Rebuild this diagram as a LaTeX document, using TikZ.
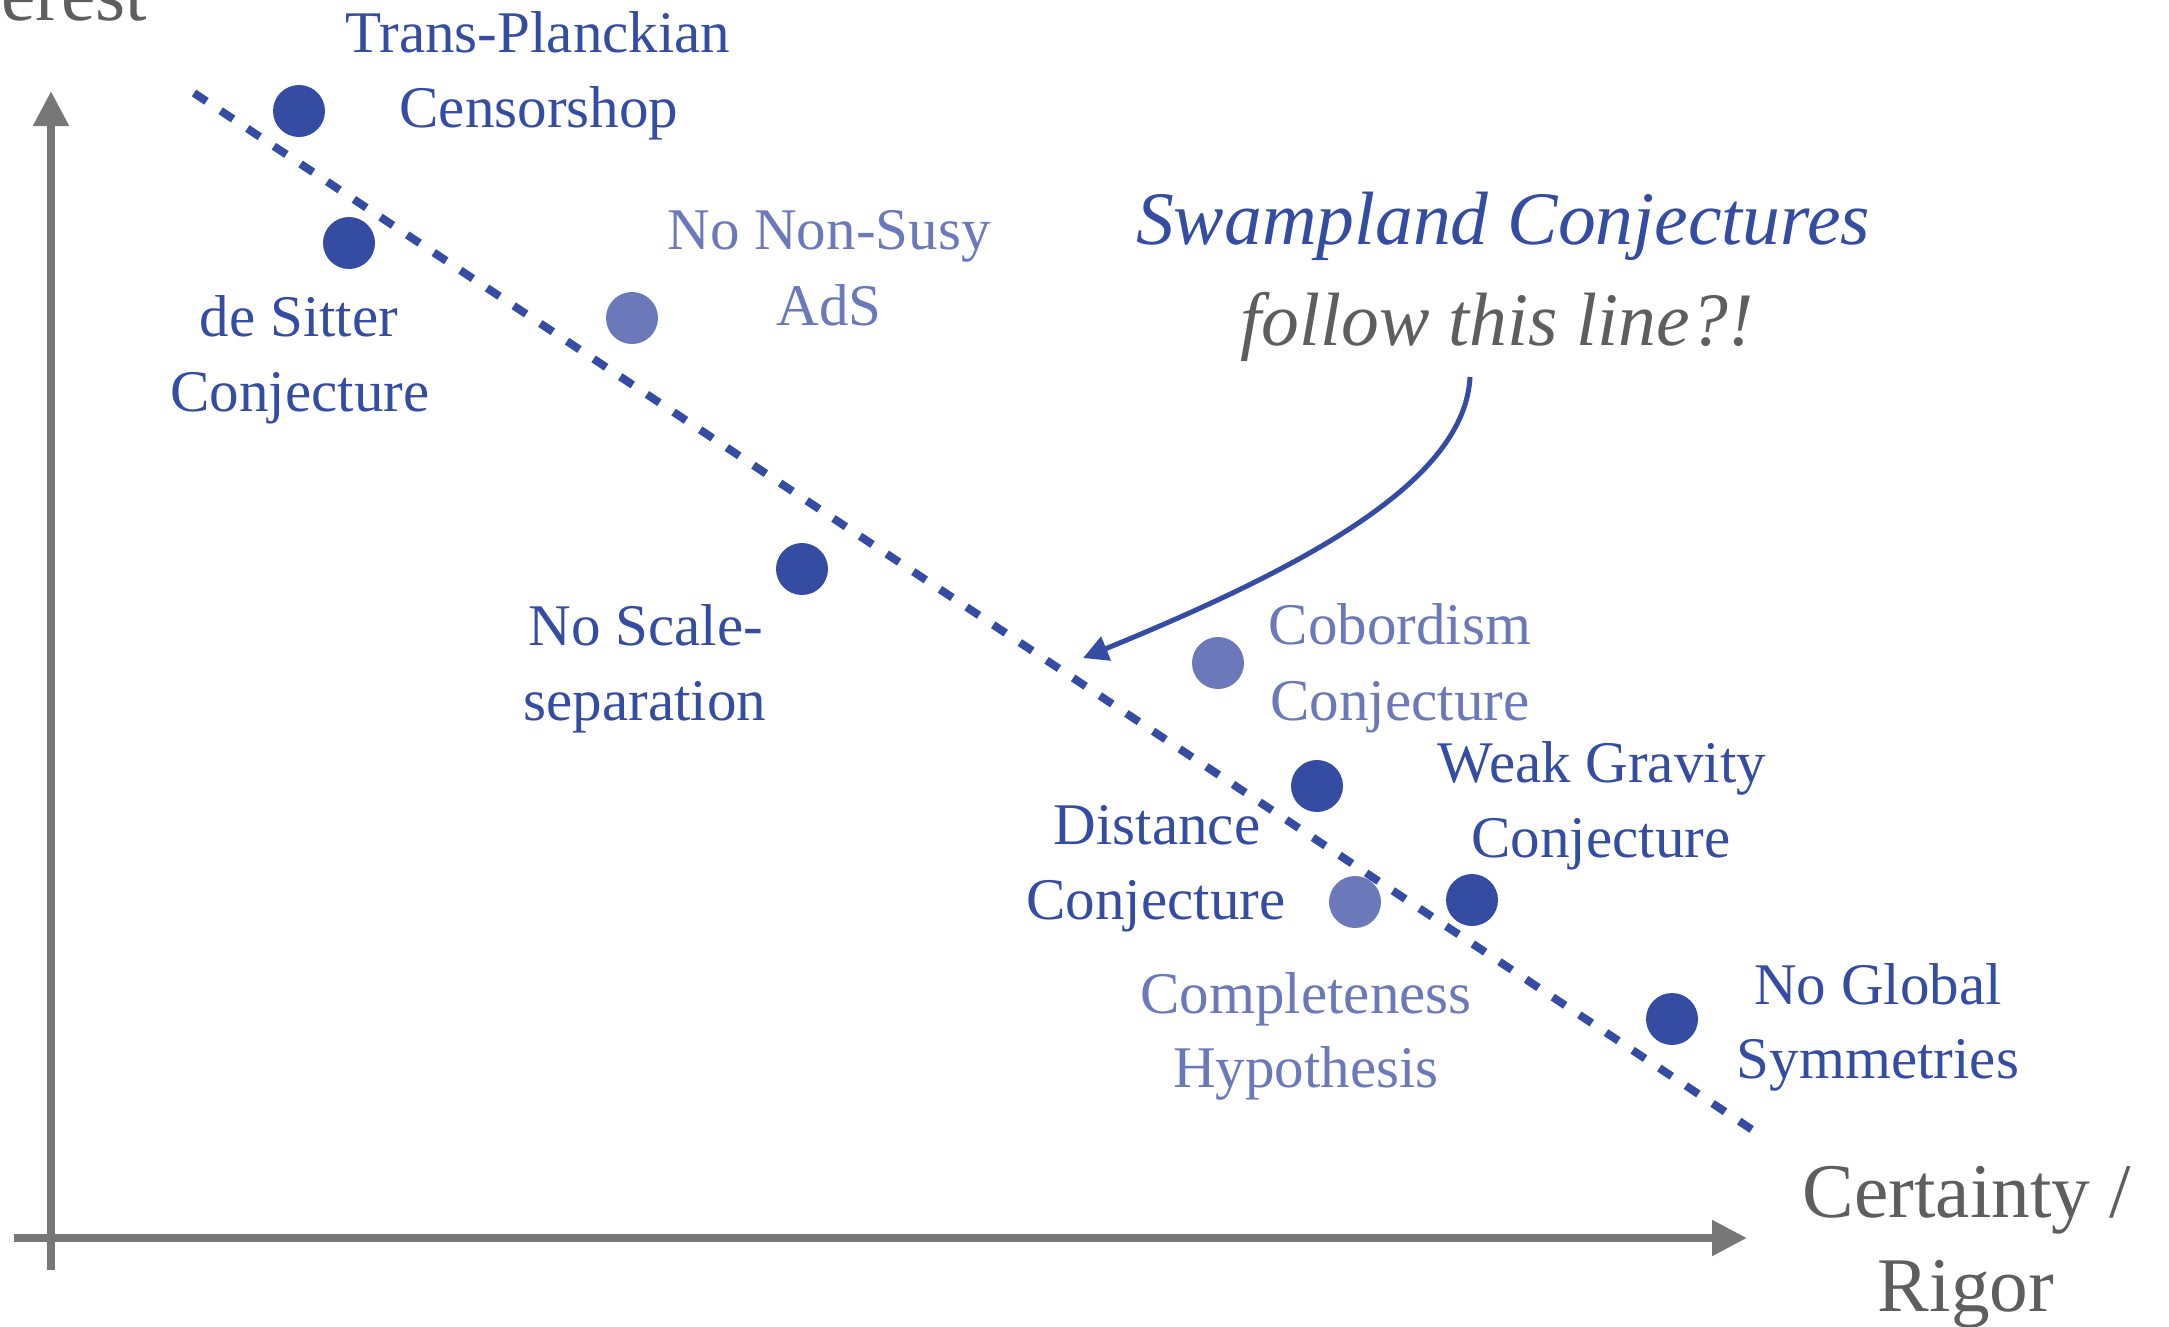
\documentclass[tikz,border=0pt]{standalone}
\usepackage{fontspec}
\setmainfont{Liberation Serif}
\usetikzlibrary{arrows.meta}

\definecolor{swampblue}{HTML}{344CA2}
\definecolor{swamplight}{HTML}{6B79BA}
\definecolor{axisgray}{HTML}{777777}
\definecolor{textgray}{HTML}{5E5E5E}

\tikzset{
  lbl/.style={anchor=base, inner sep=0pt, text=swampblue,
              font=\fontsize{16.8}{20}\selectfont},
  lbllight/.style={lbl, text=swamplight},
  axislbl/.style={anchor=base, inner sep=0pt, text=textgray,
                  font=\fontsize{22}{26}\selectfont},
  titlelbl/.style={anchor=base, inner sep=0pt,
                   font=\fontsize{21.5}{27}\selectfont\itshape},
  dotd/.style={circle, fill=swampblue, minimum size=5.2mm, inner sep=0pt},
  dotl/.style={dotd, fill=swamplight},
  axisline/.style={draw=axisgray, line width=0.8mm,
                   -{Triangle[length=3.5mm,width=3.4mm]}},
  trendline/.style={draw=swampblue, line width=0.8mm,
                    dash pattern=on 1.5mm off 1.7mm},
  pointer/.style={draw=swampblue, line width=0.5mm,
                  -{Triangle[length=2.5mm,width=2.5mm]}},
}

\begin{document}
\begin{tikzpicture}[x=0.1mm, y=-0.1mm]
  \useasboundingbox (0,0) rectangle (2169,1326);

  % axes
  \coordinate (xa0) at (14,1238);
  \coordinate (xa1) at (1747,1238);
  \coordinate (ya0) at (51,1270);
  \coordinate (ya1) at (51,91);
  \draw[axisline] (xa0) -- (xa1);
  \draw[axisline] (ya0) -- (ya1);

  \node[axislbl] (xl1) at (1967,1217) {Certainty /};
  \node[axislbl] (xl2) at (1966,1311) {Rigor};
  \node[axislbl, anchor=base east] (yl) at (148,20) {Interest};

  % trend line
  \coordinate (ls) at (194,93);
  \coordinate (le) at (1754,1131);
  \draw[trendline] (ls) -- (le);

  % conjectures
  \node[dotd] (tpc) at (299,111) {};
  \node[lbl] (tpc1) at (538,52) {Trans-Planckian};
  \node[lbl] (tpc2) at (539,127) {Censorshop};

  \node[dotd] (dsc) at (349,243) {};
  \node[lbl] (dsc1) at (299,336) {de Sitter};
  \node[lbl] (dsc2) at (300,411) {Conjecture};

  \node[dotl] (nns) at (632,318) {};
  \node[lbllight] (nns1) at (829,249) {No Non-Susy};
  \node[lbllight] (nns2) at (829,325) {AdS};

  \node[dotd] (nss) at (802,569) {};
  \node[lbl] (nss1) at (646,645) {No Scale-};
  \node[lbl] (nss2) at (645,720) {separation};

  \node[dotl] (cob) at (1218,663) {};
  \node[lbllight] (cob1) at (1400,644) {Cobordism};
  \node[lbllight] (cob2) at (1400,720) {Conjecture};

  \node[dotd] (dist) at (1317,786) {};
  \node[lbl] (dist1) at (1157,844) {Distance};
  \node[lbl] (dist2) at (1156,919) {Conjecture};

  \node[dotl] (comp) at (1355,902) {};
  \node[lbllight] (comp1) at (1306,1013) {Completeness};
  \node[lbllight] (comp2) at (1306,1087) {Hypothesis};

  \node[dotd] (wgc) at (1472,900) {};
  \node[lbl] (wgc1) at (1602,782) {Weak Gravity};
  \node[lbl] (wgc2) at (1601,857) {Conjecture};

  \node[dotd] (ngs) at (1672,1019) {};
  \node[lbl] (ngs1) at (1878,1004) {No Global};
  \node[lbl] (ngs2) at (1878,1078) {Symmetries};

  % headline and pointer
  \node[titlelbl, text=swampblue] (t1) at (1503,244) {Swampland Conjectures};
  \node[titlelbl, text=textgray] (t2) at (1497,345) {follow this line?!};

  \coordinate (ps) at (1470,377);
  \coordinate (pe) at (1083,658);
  \draw[pointer] (ps) .. controls (1465,480) and (1310,565) .. (pe);
\end{tikzpicture}
\end{document}
